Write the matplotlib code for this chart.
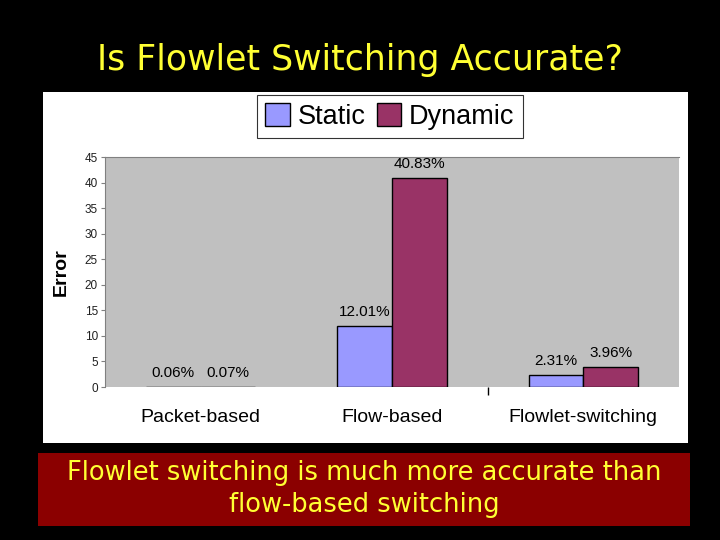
import matplotlib.pyplot as plt
from matplotlib.patches import Rectangle
import numpy as np

categories = ['Packet-based', 'Flow-based', 'Flowlet-switching']
static_err = [0.06, 12.01, 2.31]
dynamic_err = [0.07, 40.83, 3.96]
series_names = ['Static', 'Dynamic']
yticks = [0, 5, 10, 15, 20, 25, 30, 35, 40, 45]

title = 'Is Flowlet Switching Accurate?'
note = 'Flowlet switching is much more accurate than\nflow-based switching'

plt.rcParams['font.family'] = ['Liberation Sans', 'DejaVu Sans']

fig = plt.figure(figsize=(7.2, 5.4), dpi=100)
fig.patch.set_facecolor('black')

# white panel behind the chart
fig.add_artist(Rectangle((43 / 720, 1 - 443 / 540), 645 / 720, 351 / 540,
                         transform=fig.transFigure, facecolor='white',
                         edgecolor='none', zorder=0))

fig.text(0.5, 1 - 60 / 540, title, ha='center', va='center', color='#ffff33',
         fontsize=25, family='DejaVu Sans')

ax = fig.add_axes([105 / 720, 1 - 387 / 540, 574 / 720, 230 / 540])
ax.set_facecolor('#c0c0c0')

x = np.arange(len(categories))
w = 1 / 3.5
b1 = ax.bar(x - w / 2, static_err, width=w, color='#9999ff', edgecolor='black',
            linewidth=1, label=series_names[0], zorder=2)
b2 = ax.bar(x + w / 2, dynamic_err, width=w, color='#993366', edgecolor='black',
            linewidth=1, label=series_names[1], zorder=2)

for bars, vals in [(b1, static_err), (b2, dynamic_err)]:
    for rect, v in zip(bars, vals):
        ax.annotate('%.2f%%' % v, (rect.get_x() + rect.get_width() / 2, v),
                    xytext=(0, 5), textcoords='offset points', ha='center',
                    va='bottom', fontsize=11, color='black')

ax.set_xlim(-0.5, 2.5)
ax.set_ylim(0, 45)
ax.set_yticks(yticks)
ax.tick_params(axis='y', labelsize=8.5, length=3, color='#808080',
               labelcolor='#202020', pad=2)
ax.set_xticks(x)
ax.set_xticklabels(categories, fontsize=14)
ax.tick_params(axis='x', length=0, pad=16)
ax.set_xticks([1.5], minor=True)
ax.tick_params(axis='x', which='minor', length=6, color='black', width=1)

for side in ['right', 'bottom']:
    ax.spines[side].set_visible(False)
for side in ['top', 'left']:
    ax.spines[side].set_color('#808080')

ax.set_ylabel('Error', fontsize=14, fontweight='bold', labelpad=11)

leg = fig.legend(loc='upper center', bbox_to_anchor=(390 / 720, 1 - 95 / 540),
                 ncol=2, fontsize=19.5, frameon=True, fancybox=False,
                 handlelength=0.9, handleheight=0.9, handletextpad=0.3,
                 columnspacing=0.4, borderpad=0.3, borderaxespad=0)
leg.get_frame().set_edgecolor('black')
leg.get_frame().set_linewidth(0.8)

# red note box at the bottom
fig.add_artist(Rectangle((38 / 720, 1 - 526 / 540), 652 / 720, 73 / 540,
                         transform=fig.transFigure, facecolor='#8b0000',
                         edgecolor='none', zorder=0))
fig.text(364 / 720, 1 - 489 / 540, note, ha='center', va='center',
         color='#ffff33', fontsize=18.5, family='DejaVu Sans', linespacing=1.35)

fig.savefig('out.png', dpi=100, facecolor=fig.get_facecolor())
